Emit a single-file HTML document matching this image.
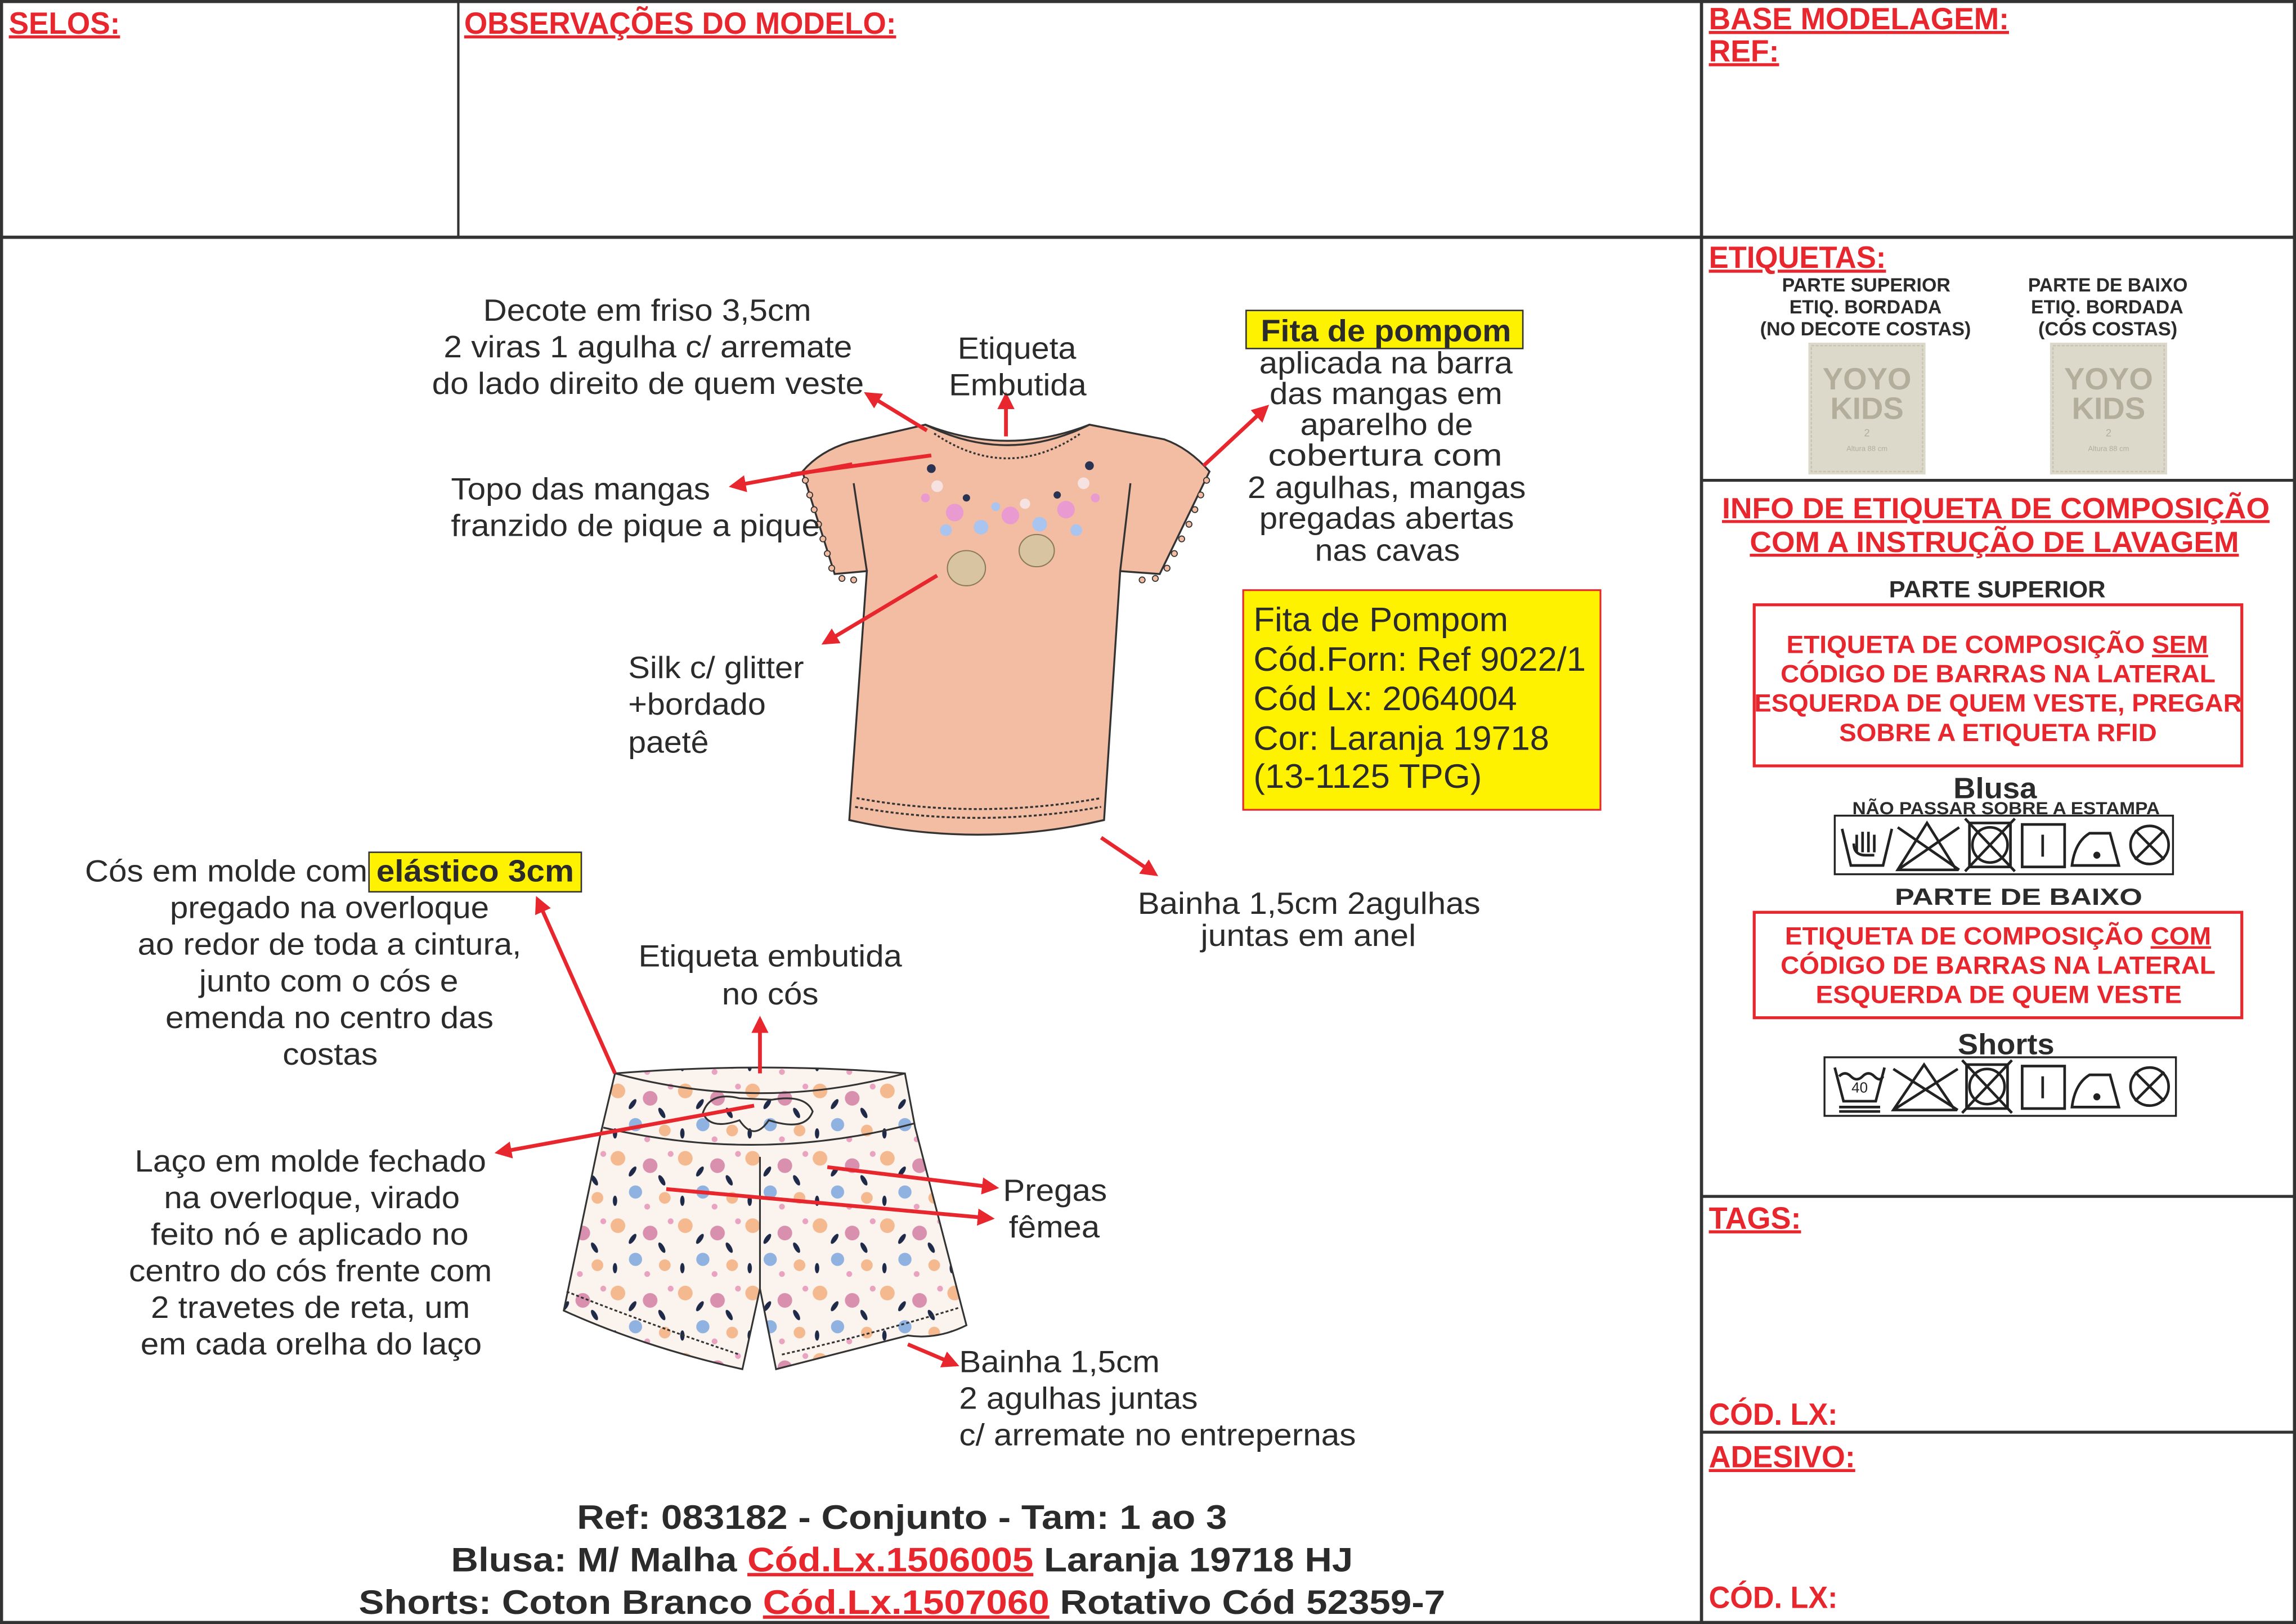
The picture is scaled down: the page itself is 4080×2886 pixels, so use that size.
<!DOCTYPE html>
<html><head><meta charset="utf-8"><style>
html,body{margin:0;padding:0;background:#fff;}
svg{display:block;}
text{font-family:"Liberation Sans",Arial,sans-serif;}
.h{fill:#e8262d;font-weight:bold;font-size:21px;text-decoration:underline;}
.t{fill:#2b2b2b;font-size:21px;}
.s{fill:#2b2b2b;font-size:13px;font-weight:bold;}
.r{fill:#e8262d;font-size:17px;font-weight:bold;}
.b{fill:#2b2b2b;font-size:23px;font-weight:bold;}
.a{stroke:#e8262d;stroke-width:2.6;fill:none;}
.sym{stroke:#222;stroke-width:1.8;fill:none;}
</style></head><body>
<svg width="4080" height="2886" viewBox="0 0 1568 1109" preserveAspectRatio="none" xmlns="http://www.w3.org/2000/svg">
<defs>
<marker id="ah" viewBox="0 0 10 10" refX="8" refY="5" markerWidth="4.5" markerHeight="4.5" orient="auto"><path d="M0,0 L10,5 L0,10 z" fill="#e8262d"/></marker>
<pattern id="fl" width="46" height="46" patternUnits="userSpaceOnUse">
<rect width="46" height="46" fill="#fbf4ee"/>
<circle cx="8" cy="9" r="5" fill="#f5b98f"/><circle cx="30" cy="14" r="5" fill="#d98fae"/><circle cx="20" cy="32" r="4.5" fill="#8fb2e0"/>
<circle cx="40" cy="36" r="4" fill="#f5b98f"/><ellipse cx="18" cy="18" rx="1.6" ry="4" fill="#1f2a48" transform="rotate(35 18 18)"/>
<ellipse cx="38" cy="24" rx="1.6" ry="4" fill="#1f2a48" transform="rotate(-30 38 24)"/><ellipse cx="6" cy="38" rx="1.5" ry="3.5" fill="#1f2a48"/>
<circle cx="28" cy="42" r="2" fill="#e9a3c0"/><circle cx="44" cy="6" r="2" fill="#e9a3c0"/>
</pattern>
</defs>
<!-- frame -->
<g stroke="#333" fill="none">
<rect x="1" y="1" width="1566" height="1107" stroke-width="2.2"/>
<line x1="0" y1="162" x2="1568" y2="162" stroke-width="2.2"/>
<line x1="313" y1="0" x2="313" y2="162" stroke-width="1.6"/>
<line x1="1162" y1="0" x2="1162" y2="1109" stroke-width="2.2"/>
<line x1="1162" y1="328" x2="1568" y2="328" stroke-width="2"/>
<line x1="1162" y1="817" x2="1568" y2="817" stroke-width="2"/>
<line x1="1162" y1="978" x2="1568" y2="978" stroke-width="2"/>
</g>
<text class="h" x="6" y="23" textLength="76" lengthAdjust="spacingAndGlyphs">SELOS:</text>
<text class="h" x="317" y="23" textLength="295" lengthAdjust="spacingAndGlyphs">OBSERVAÇÕES DO MODELO:</text>
<text class="h" x="1167" y="20" textLength="205" lengthAdjust="spacingAndGlyphs">BASE MODELAGEM:</text>
<text class="h" x="1167" y="42" textLength="48" lengthAdjust="spacingAndGlyphs">REF:</text>
<text class="h" x="1167" y="183" textLength="121" lengthAdjust="spacingAndGlyphs">ETIQUETAS:</text>
<text class="h" x="1167" y="839" textLength="63" lengthAdjust="spacingAndGlyphs">TAGS:</text>
<text class="h" x="1167" y="973" textLength="88" lengthAdjust="spacingAndGlyphs" style="text-decoration:none">CÓD. LX:</text>
<text class="h" x="1167" y="1002" textLength="100" lengthAdjust="spacingAndGlyphs">ADESIVO:</text>
<text class="h" x="1167" y="1098" textLength="88" lengthAdjust="spacingAndGlyphs" style="text-decoration:none">CÓD. LX:</text>

<!-- etiquetas -->
<text class="s" x="1217" y="199" textLength="115" lengthAdjust="spacingAndGlyphs">PARTE SUPERIOR</text>
<text class="s" x="1222" y="214" textLength="104" lengthAdjust="spacingAndGlyphs">ETIQ. BORDADA</text>
<text class="s" x="1202" y="229" textLength="144" lengthAdjust="spacingAndGlyphs">(NO DECOTE COSTAS)</text>
<text class="s" x="1385" y="199" textLength="109" lengthAdjust="spacingAndGlyphs">PARTE DE BAIXO</text>
<text class="s" x="1387" y="214" textLength="104" lengthAdjust="spacingAndGlyphs">ETIQ. BORDADA</text>
<text class="s" x="1392" y="229" textLength="95" lengthAdjust="spacingAndGlyphs">(CÓS COSTAS)</text>
<g>
<rect x="1235" y="234" width="80" height="90" fill="#dcd9cb"/>
<rect x="1237" y="236" width="76" height="86" fill="none" stroke="#c9c5b4" stroke-dasharray="2 1"/>
<text x="1275" y="266" text-anchor="middle" font-size="21" font-weight="bold" fill="#b3ae9c">YOYO</text>
<text x="1275" y="286" text-anchor="middle" font-size="21" font-weight="bold" fill="#b3ae9c">KIDS</text>
<text x="1275" y="298" text-anchor="middle" font-size="7" fill="#b3ae9c">2</text>
<text x="1275" y="308" text-anchor="middle" font-size="5" fill="#b3ae9c">Altura 88 cm</text>
<rect x="1400" y="234" width="80" height="90" fill="#dcd9cb"/>
<rect x="1402" y="236" width="76" height="86" fill="none" stroke="#c9c5b4" stroke-dasharray="2 1"/>
<text x="1440" y="266" text-anchor="middle" font-size="21" font-weight="bold" fill="#b3ae9c">YOYO</text>
<text x="1440" y="286" text-anchor="middle" font-size="21" font-weight="bold" fill="#b3ae9c">KIDS</text>
<text x="1440" y="298" text-anchor="middle" font-size="7" fill="#b3ae9c">2</text>
<text x="1440" y="308" text-anchor="middle" font-size="5" fill="#b3ae9c">Altura 88 cm</text>
</g>
<text class="h" x="1176" y="354" textLength="374" lengthAdjust="spacingAndGlyphs" style="font-size:20px">INFO DE ETIQUETA DE COMPOSIÇÃO</text>
<text class="h" x="1195" y="377" textLength="334" lengthAdjust="spacingAndGlyphs" style="font-size:20px">COM A INSTRUÇÃO DE LAVAGEM</text>
<text class="s" x="1290" y="408" textLength="148" lengthAdjust="spacingAndGlyphs" style="font-size:16px">PARTE SUPERIOR</text>
<rect x="1198" y="413" width="333" height="110" fill="none" stroke="#e8262d" stroke-width="2"/>
<text class="r" x="1220" y="446" textLength="288" lengthAdjust="spacingAndGlyphs">ETIQUETA DE COMPOSIÇÃO <tspan text-decoration="underline">SEM</tspan></text>
<text class="r" x="1216" y="466" textLength="297" lengthAdjust="spacingAndGlyphs">CÓDIGO DE BARRAS NA LATERAL</text>
<text class="r" x="1198" y="486" textLength="333" lengthAdjust="spacingAndGlyphs">ESQUERDA DE QUEM VESTE, PREGAR</text>
<text class="r" x="1256" y="506" textLength="217" lengthAdjust="spacingAndGlyphs">SOBRE A ETIQUETA RFID</text>
<text class="s" x="1334" y="545" textLength="57" lengthAdjust="spacingAndGlyphs" style="font-size:20px">Blusa</text>
<text class="s" x="1265" y="556" textLength="210" lengthAdjust="spacingAndGlyphs" style="font-size:12px">NÃO PASSAR SOBRE A ESTAMPA</text>
<text class="s" x="1294" y="618" textLength="169" lengthAdjust="spacingAndGlyphs" style="font-size:16px">PARTE DE BAIXO</text>
<rect x="1198" y="623" width="333" height="72" fill="none" stroke="#e8262d" stroke-width="2"/>
<text class="r" x="1219" y="645" textLength="291" lengthAdjust="spacingAndGlyphs">ETIQUETA DE COMPOSIÇÃO <tspan text-decoration="underline">COM</tspan></text>
<text class="r" x="1216" y="665" textLength="297" lengthAdjust="spacingAndGlyphs">CÓDIGO DE BARRAS NA LATERAL</text>
<text class="r" x="1240" y="685" textLength="250" lengthAdjust="spacingAndGlyphs">ESQUERDA DE QUEM VESTE</text>
<text class="s" x="1337" y="720" textLength="66" lengthAdjust="spacingAndGlyphs" style="font-size:20px">Shorts</text>

<!-- care symbols row 1 -->
<g class="sym">
<rect x="1253" y="557" width="231" height="40" stroke-width="1.3"/>
<path d="M1258,566 L1264,591 L1286,591 L1292,566"/><path d="M1268,582 v-12 M1272,582 v-14 M1276,582 v-14 M1280,582 v-12 M1266,576 q0,8 8,8 h6"/>
<path d="M1296,594 L1316,562 L1336,594 Z"/><line x1="1296" y1="565" x2="1338" y2="594"/><line x1="1338" y1="565" x2="1296" y2="594"/>
<rect x="1345" y="562" width="28" height="30"/><circle cx="1359" cy="577" r="12"/><line x1="1342" y1="559" x2="1376" y2="595"/><line x1="1376" y1="559" x2="1342" y2="595"/>
<rect x="1381" y="563" width="29" height="29"/><line x1="1395" y1="570" x2="1395" y2="585"/>
<path d="M1415,591 h32 l-6,-22 h-14 q-10,6 -12,22 z"/><circle cx="1432" cy="584" r="1.5" fill="#222"/>
<circle cx="1468" cy="577" r="13"/><line x1="1458" y1="567" x2="1478" y2="587"/><line x1="1478" y1="567" x2="1458" y2="587"/>
</g>
<!-- care symbols row 2 -->
<g class="sym">
<rect x="1246" y="722" width="240" height="40" stroke-width="1.3"/>
<path d="M1253,729 L1259,752 L1281,752 L1287,729"/><path d="M1256,735 q4,-4 8,0 q4,4 8,0 q4,-4 8,0 q4,4 6,0"/>
<text x="1270" y="746" font-size="10" fill="#222" stroke="none" text-anchor="middle">40</text>
<line x1="1256" y1="756" x2="1284" y2="756"/><line x1="1256" y1="759" x2="1284" y2="759"/>
<path d="M1293,758 L1314,727 L1335,758 Z"/><line x1="1293" y1="730" x2="1337" y2="758"/><line x1="1337" y1="730" x2="1293" y2="758"/>
<rect x="1343" y="727" width="28" height="30"/><circle cx="1357" cy="742" r="12"/><line x1="1340" y1="724" x2="1374" y2="760"/><line x1="1374" y1="724" x2="1340" y2="760"/>
<rect x="1381" y="728" width="29" height="29"/><line x1="1395" y1="735" x2="1395" y2="750"/>
<path d="M1415,756 h32 l-6,-22 h-14 q-10,6 -12,22 z"/><circle cx="1432" cy="749" r="1.5" fill="#222"/>
<circle cx="1468" cy="742" r="13"/><line x1="1458" y1="732" x2="1478" y2="752"/><line x1="1478" y1="732" x2="1458" y2="752"/>
</g>

<!-- shirt -->
<g stroke="#333" stroke-width="1.3">
<path d="M580,302 Q560,308 548,322 L570,392 L592,390 L580,560 Q668,580 754,560 L765,390 L792,392 L826,322 Q812,306 795,300 L744,290 Q688,312 632,290 Z" fill="#f2bda3"/>
<path d="M632,290 Q688,318 744,290" fill="none"/>
<path d="M638,296 Q688,330 738,296" fill="none" stroke-dasharray="1.5 1.5"/>
<path d="M592,390 L583,330 M765,390 L772,330" fill="none"/>
<path d="M585,545 Q668,560 752,545" fill="none" stroke-dasharray="2 1.5"/>
<path d="M584,551 Q668,566 752,551" fill="none" stroke-dasharray="2 1.5"/>
</g>
<g fill="#f2bda3" stroke="#333" stroke-width="0.7">
<circle cx="550" cy="328" r="2"/><circle cx="553" cy="338" r="2"/><circle cx="556" cy="348" r="2"/><circle cx="559" cy="358" r="2"/><circle cx="562" cy="368" r="2"/><circle cx="565" cy="378" r="2"/><circle cx="568" cy="388" r="2"/><circle cx="575" cy="395" r="2"/><circle cx="583" cy="396" r="2"/>
<circle cx="824" cy="328" r="2"/><circle cx="820" cy="338" r="2"/><circle cx="816" cy="348" r="2"/><circle cx="812" cy="358" r="2"/><circle cx="807" cy="368" r="2"/><circle cx="802" cy="378" r="2"/><circle cx="797" cy="388" r="2"/><circle cx="789" cy="395" r="2"/><circle cx="780" cy="396" r="2"/>
</g>
<g>
<circle cx="652" cy="350" r="6" fill="#e99ad0"/><circle cx="670" cy="360" r="5" fill="#a8c4ef"/><circle cx="690" cy="352" r="6" fill="#e99ad0"/>
<circle cx="710" cy="358" r="5" fill="#a8c4ef"/><circle cx="728" cy="348" r="6" fill="#e99ad0"/><circle cx="640" cy="332" r="4" fill="#f6e2e0"/>
<circle cx="740" cy="330" r="4" fill="#f6e2e0"/><circle cx="660" cy="340" r="2.5" fill="#2a3352"/><circle cx="722" cy="338" r="2.5" fill="#2a3352"/>
<circle cx="636" cy="320" r="3" fill="#2a3352"/><circle cx="744" cy="318" r="3" fill="#2a3352"/>
<circle cx="646" cy="362" r="4" fill="#a8c4ef"/><circle cx="700" cy="344" r="3.5" fill="#f6e2e0"/><circle cx="680" cy="346" r="3" fill="#a8c4ef"/>
<circle cx="735" cy="362" r="4" fill="#a8c4ef"/><circle cx="632" cy="340" r="3" fill="#e99ad0"/><circle cx="748" cy="340" r="3" fill="#e99ad0"/>
<ellipse cx="660" cy="388" rx="13" ry="12" fill="#d8c4a0" stroke="#8a7a5a" stroke-width="0.8"/>
<ellipse cx="708" cy="376" rx="12" ry="11" fill="#d8c4a0" stroke="#8a7a5a" stroke-width="0.8"/>
</g>

<!-- shorts -->
<g stroke="#333" stroke-width="1.2">
<path d="M420,733 Q520,725 618,733 L625,770 L660,905 Q640,915 620,912 L530,935 L519,880 L507,935 Q440,920 385,895 L410,775 Z" fill="url(#fl)"/>
<path d="M420,733 Q520,760 618,733" fill="none"/>
<path d="M412,770 Q520,795 625,767" fill="none"/>
<path d="M519,790 L519,880" fill="none"/>
<path d="M505,750 q-20,-5 -25,10 q5,12 25,5 q10,15 20,0 q25,8 30,-6 q-5,-12 -28,-8 z" fill="none"/>
<path d="M387,882 Q445,905 505,925 M534,925 Q600,910 655,893" fill="none" stroke-dasharray="2 1.5"/>
</g>

<!-- arrows -->
<g class="a">
<line x1="633" y1="294" x2="592" y2="269" marker-end="url(#ah)"/>
<line x1="582" y1="317" x2="500" y2="332" marker-end="url(#ah)"/>
<line x1="636" y1="311" x2="540" y2="324"/>
<line x1="687" y1="298" x2="687" y2="270" marker-end="url(#ah)"/>
<line x1="822" y1="318" x2="865" y2="278" marker-end="url(#ah)"/>
<line x1="640" y1="393" x2="563" y2="439" marker-end="url(#ah)"/>
<line x1="752" y1="572" x2="789" y2="597" marker-end="url(#ah)"/>
<line x1="420" y1="733" x2="367" y2="614" marker-end="url(#ah)"/>
<line x1="519" y1="733" x2="519" y2="696" marker-end="url(#ah)"/>
<line x1="515" y1="755" x2="340" y2="787" marker-end="url(#ah)"/>
<line x1="565" y1="797" x2="680" y2="811" marker-end="url(#ah)"/>
<line x1="455" y1="812" x2="677" y2="832" marker-end="url(#ah)"/>
<line x1="620" y1="918" x2="653" y2="932" marker-end="url(#ah)"/>
</g>

<!-- annotations -->
<text class="t" x="330" y="219" textLength="224" lengthAdjust="spacingAndGlyphs">Decote em friso 3,5cm</text>
<text class="t" x="303" y="244" textLength="279" lengthAdjust="spacingAndGlyphs">2 viras 1 agulha c/ arremate</text>
<text class="t" x="295" y="269" textLength="295" lengthAdjust="spacingAndGlyphs">do lado direito de quem veste</text>
<text class="t" x="654" y="245" textLength="81" lengthAdjust="spacingAndGlyphs">Etiqueta</text>
<text class="t" x="648" y="270" textLength="94" lengthAdjust="spacingAndGlyphs">Embutida</text>
<rect x="851" y="212" width="189" height="26" fill="#fff200" stroke="#333" stroke-width="1"/>
<text class="t" x="861" y="233" textLength="171" lengthAdjust="spacingAndGlyphs" font-weight="bold">Fita de pompom</text>
<text class="t" x="860" y="255" textLength="173" lengthAdjust="spacingAndGlyphs">aplicada na barra</text>
<text class="t" x="867" y="276" textLength="159" lengthAdjust="spacingAndGlyphs">das mangas em</text>
<text class="t" x="888" y="297" textLength="118" lengthAdjust="spacingAndGlyphs">aparelho de</text>
<text class="t" x="866" y="318" textLength="160" lengthAdjust="spacingAndGlyphs">cobertura com</text>
<text class="t" x="852" y="340" textLength="190" lengthAdjust="spacingAndGlyphs">2 agulhas, mangas</text>
<text class="t" x="860" y="361" textLength="174" lengthAdjust="spacingAndGlyphs">pregadas abertas</text>
<text class="t" x="898" y="383" textLength="99" lengthAdjust="spacingAndGlyphs">nas cavas</text>
<text class="t" x="308" y="341" textLength="177" lengthAdjust="spacingAndGlyphs">Topo das mangas</text>
<text class="t" x="308" y="366" textLength="252" lengthAdjust="spacingAndGlyphs">franzido de pique a pique</text>
<text class="t" x="429" y="463" textLength="120" lengthAdjust="spacingAndGlyphs">Silk c/ glitter</text>
<text class="t" x="429" y="488" textLength="94" lengthAdjust="spacingAndGlyphs">+bordado</text>
<text class="t" x="429" y="514" textLength="55" lengthAdjust="spacingAndGlyphs">paetê</text>
<rect x="849" y="403" width="244" height="150" fill="#fff200" stroke="#e8262d" stroke-width="1.2"/>
<text class="t" x="856" y="431" textLength="174" lengthAdjust="spacingAndGlyphs" style="font-size:23px">Fita de Pompom</text>
<text class="t" x="856" y="458" textLength="227" lengthAdjust="spacingAndGlyphs" style="font-size:23px">Cód.Forn: Ref 9022/1</text>
<text class="t" x="856" y="485" textLength="180" lengthAdjust="spacingAndGlyphs" style="font-size:23px">Cód Lx: 2064004</text>
<text class="t" x="856" y="512" textLength="202" lengthAdjust="spacingAndGlyphs" style="font-size:23px">Cor: Laranja 19718</text>
<text class="t" x="856" y="538" textLength="156" lengthAdjust="spacingAndGlyphs" style="font-size:23px">(13-1125 TPG)</text>
<text class="t" x="777" y="624" textLength="234" lengthAdjust="spacingAndGlyphs">Bainha 1,5cm 2agulhas</text>
<text class="t" x="820" y="646" textLength="147" lengthAdjust="spacingAndGlyphs">juntas em anel</text>
<text class="t" x="58" y="602" textLength="193" lengthAdjust="spacingAndGlyphs">Cós em molde com</text>
<rect x="252" y="582" width="145" height="27" fill="#fff200" stroke="#333" stroke-width="1"/>
<text class="t" x="257" y="602" textLength="135" lengthAdjust="spacingAndGlyphs" font-weight="bold">elástico 3cm</text>
<text class="t" x="116" y="627" textLength="218" lengthAdjust="spacingAndGlyphs">pregado na overloque</text>
<text class="t" x="94" y="652" textLength="262" lengthAdjust="spacingAndGlyphs">ao redor de toda a cintura,</text>
<text class="t" x="136" y="677" textLength="177" lengthAdjust="spacingAndGlyphs">junto com o cós e</text>
<text class="t" x="113" y="702" textLength="224" lengthAdjust="spacingAndGlyphs">emenda no centro das</text>
<text class="t" x="193" y="727" textLength="65" lengthAdjust="spacingAndGlyphs">costas</text>
<text class="t" x="436" y="660" textLength="180" lengthAdjust="spacingAndGlyphs">Etiqueta embutida</text>
<text class="t" x="493" y="686" textLength="66" lengthAdjust="spacingAndGlyphs">no cós</text>
<text class="t" x="92" y="800" textLength="240" lengthAdjust="spacingAndGlyphs">Laço em molde fechado</text>
<text class="t" x="112" y="825" textLength="202" lengthAdjust="spacingAndGlyphs">na overloque, virado</text>
<text class="t" x="103" y="850" textLength="217" lengthAdjust="spacingAndGlyphs">feito nó e aplicado no</text>
<text class="t" x="88" y="875" textLength="248" lengthAdjust="spacingAndGlyphs">centro do cós frente com</text>
<text class="t" x="103" y="900" textLength="218" lengthAdjust="spacingAndGlyphs">2 travetes de reta, um</text>
<text class="t" x="96" y="925" textLength="233" lengthAdjust="spacingAndGlyphs">em cada orelha do laço</text>
<text class="t" x="685" y="820" textLength="71" lengthAdjust="spacingAndGlyphs">Pregas</text>
<text class="t" x="689" y="845" textLength="62" lengthAdjust="spacingAndGlyphs">fêmea</text>
<text class="t" x="655" y="937" textLength="137" lengthAdjust="spacingAndGlyphs">Bainha 1,5cm</text>
<text class="t" x="655" y="962" textLength="163" lengthAdjust="spacingAndGlyphs">2 agulhas juntas</text>
<text class="t" x="655" y="987" textLength="271" lengthAdjust="spacingAndGlyphs">c/ arremate no entrepernas</text>

<!-- bottom -->
<text class="b" x="394" y="1044" textLength="444" lengthAdjust="spacingAndGlyphs">Ref: 083182 - Conjunto - Tam: 1 ao 3</text>
<text class="b" x="308" y="1073" textLength="616" lengthAdjust="spacingAndGlyphs">Blusa: M/ Malha <tspan fill="#e8262d" text-decoration="underline">Cód.Lx.1506005</tspan> Laranja 19718 HJ</text>
<text class="b" x="245" y="1102" textLength="742" lengthAdjust="spacingAndGlyphs">Shorts: Coton Branco <tspan fill="#e8262d" text-decoration="underline">Cód.Lx.1507060</tspan> Rotativo Cód 52359-7</text>
</svg>
</body></html>
